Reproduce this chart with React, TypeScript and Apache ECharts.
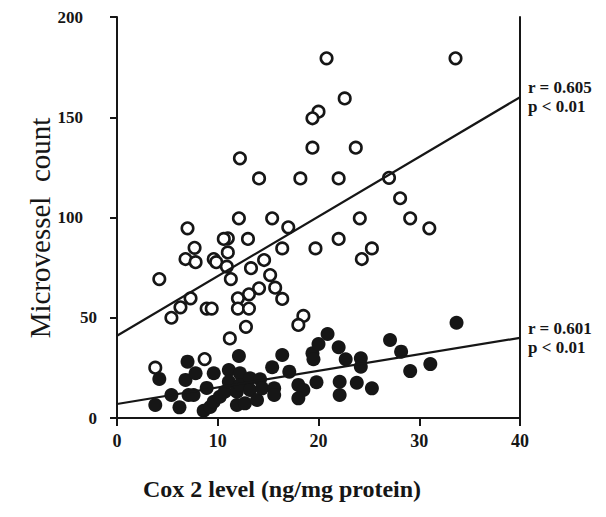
import React, { useEffect, useRef } from "react";
import * as echarts from "echarts";

// Open circles (upper group): [Cox 2 level, microvessel count]
const openX = [33.6, 20.8, 22.6, 20.0, 19.4, 19.4, 23.7, 12.2, 14.1, 18.2, 22.0, 27.0, 28.1, 29.1, 24.1, 15.4, 12.1, 31.0, 17.0, 7.0, 22.0, 13.0, 11.0, 10.6, 7.7, 16.4, 19.7, 25.3, 11.0, 24.3, 14.6, 6.8, 7.8, 9.6, 9.85, 10.9, 13.3, 15.2, 11.3, 4.2, 15.7, 14.1, 13.1, 16.4, 12.0, 7.3, 6.3, 8.9, 9.4, 12.0, 13.1, 5.4, 18.5, 18.0, 12.8, 11.2, 8.7, 3.8];
const openY = [179.4, 179.4, 159.4, 152.8, 149.5, 134.8, 134.8, 129.5, 119.5, 119.5, 119.5, 119.8, 109.6, 99.6, 99.6, 99.6, 99.6, 94.6, 95.1, 94.6, 89.3, 89.3, 89.6, 89.3, 84.9, 84.6, 84.6, 84.6, 82.6, 79.3, 78.8, 79.3, 77.7, 79.3, 77.7, 75.5, 74.7, 71.3, 69.3, 69.3, 65.0, 64.7, 61.7, 59.4, 59.7, 59.7, 55.2, 54.6, 54.6, 54.6, 54.6, 50.0, 50.9, 46.4, 45.5, 39.7, 29.4, 25.1];

// Filled circles (lower group)
const filledX = [3.8, 4.2, 5.4, 6.2, 7.0, 6.8, 7.8, 7.1, 7.6, 8.9, 8.6, 9.25, 9.6, 9.6, 10.2, 10.7, 11.1, 11.1, 11.9, 11.9, 12.1, 12.2, 12.2, 12.7, 13.2, 13.2, 13.9, 14.2, 14.4, 15.6, 15.6, 15.4, 16.4, 17.1, 18.0, 18.5, 18.0, 19.4, 19.5, 20.0, 20.9, 19.8, 22.0, 22.7, 22.1, 22.1, 23.8, 24.2, 24.2, 25.3, 27.1, 28.2, 29.1, 31.1, 33.7];
const filledY = [6.5, 19.5, 11.5, 5.3, 28.1, 19.0, 22.3, 11.5, 11.5, 15.0, 3.6, 5.5, 8.1, 22.3, 10.6, 13.1, 23.9, 18.1, 6.5, 13.1, 30.9, 22.3, 16.5, 7.3, 19.8, 14.0, 9.0, 19.3, 14.8, 14.8, 11.5, 25.3, 31.4, 23.1, 16.5, 14.0, 9.8, 32.3, 29.3, 36.9, 41.9, 17.8, 35.3, 29.3, 18.1, 11.5, 17.6, 29.8, 25.6, 14.8, 38.9, 33.1, 23.4, 26.9, 47.5];

// Regression lines (end points)
const openFit = [[0, 41], [40, 160]];
const filledFit = [[0, 7], [40, 40]];
const openStats = "r = 0.605\np < 0.01";
const filledStats = "r = 0.601\np < 0.01";

const xTicks = { min: 0, max: 40, interval: 10 };
const yTicks = { min: 0, max: 200, interval: 50 };

const INK = "#161616";
const SERIF = "'Liberation Serif', 'DejaVu Serif', serif";

export default function App() {
  const ref = useRef<HTMLDivElement>(null);
  useEffect(() => {
    if (!ref.current) return;
    const chart = echarts.init(ref.current, undefined, { renderer: "svg" });
    const openData = openX.map((x, i) => [x, openY[i]]);
    const filledData = filledX.map((x, i) => [x, filledY[i]]);
    const endLabel = (text: string) => ({
      show: true,
      formatter: () => text,
      distance: 8,
      color: INK,
      fontFamily: SERIF,
      fontWeight: "bold",
      fontSize: 17,
      lineHeight: 19,
    });
    chart.setOption({
      animation: false,
      backgroundColor: "#fff",
      grid: { left: 117, right: 86, top: 17, bottom: 99 },
      xAxis: {
        type: "value",
        ...xTicks,
        splitLine: { show: false },
        axisLine: { show: true, onZero: false, lineStyle: { color: INK, width: 2 } },
        axisTick: { show: true, inside: false, length: 8, lineStyle: { color: INK, width: 2 } },
        axisLabel: { color: INK, fontFamily: SERIF, fontWeight: "bold", fontSize: 18, margin: 14 },
      },
      yAxis: [
        {
          type: "value",
          ...yTicks,
          splitLine: { show: false },
          axisLine: { show: true, lineStyle: { color: INK, width: 2 } },
          axisTick: { show: true, inside: false, length: 7, lineStyle: { color: INK, width: 2 } },
          axisLabel: {
            color: INK,
            fontFamily: SERIF,
            fontWeight: "bold",
            fontSize: 17,
            margin: 20,
            formatter: (v: number) => (v >= 100 ? `{w|${v}}` : `{n|${v}}`),
            rich: {
              w: { fontFamily: SERIF, fontWeight: "bold", fontSize: 17, color: INK, padding: [0, 14, 0, 0] },
              n: { fontFamily: SERIF, fontWeight: "bold", fontSize: 17, color: INK },
            },
          },
        },
        {
          type: "value",
          position: "right",
          ...yTicks,
          splitLine: { show: false },
          axisLine: { show: true, lineStyle: { color: INK, width: 2 } },
          axisTick: { show: false },
          axisLabel: { show: false },
        },
      ],
      series: [
        {
          type: "scatter",
          data: filledData,
          symbol: "circle",
          symbolSize: 14,
          itemStyle: { color: INK, opacity: 1 },
          z: 2,
        },
        {
          type: "scatter",
          data: openData,
          symbol: "circle",
          symbolSize: 11.5,
          itemStyle: { color: "#fff", borderColor: INK, borderWidth: 2.6, opacity: 1 },
          z: 3,
        },
        {
          type: "line",
          data: openFit,
          symbol: "none",
          lineStyle: { color: INK, width: 2.2 },
          endLabel: endLabel(openStats),
          z: 4,
        },
        {
          type: "line",
          data: filledFit,
          symbol: "none",
          lineStyle: { color: INK, width: 2.2 },
          endLabel: endLabel(filledStats),
          z: 4,
        },
      ],
      graphic: [
        {
          type: "text",
          x: 40,
          y: 228,
          rotation: Math.PI / 2,
          style: {
            text: "Microvessel  count",
            font: `29px ${SERIF}`,
            fill: INK,
            textAlign: "center",
            textVerticalAlign: "middle",
          },
        },
        {
          type: "text",
          x: 282,
          y: 489,
          style: {
            text: "Cox 2 level (ng/mg protein)",
            font: `bold 24px ${SERIF}`,
            fill: INK,
            textAlign: "center",
            textVerticalAlign: "middle",
          },
        },
      ],
    });
    return () => chart.dispose();
  }, []);
  return (
    <div
      ref={ref}
      style={{ position: "fixed", left: 0, top: 0, width: 606, height: 517, background: "#fff" }}
    />
  );
}
